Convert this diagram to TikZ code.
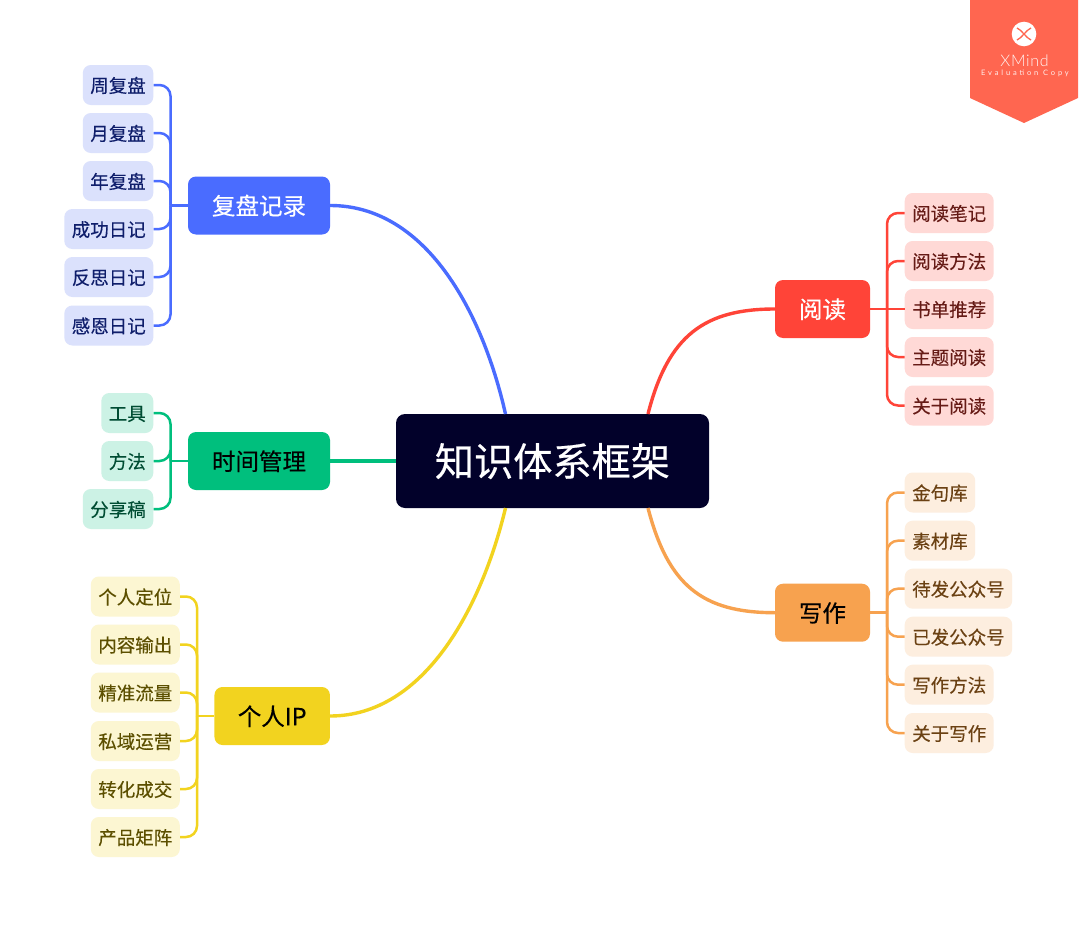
\documentclass[tikz,border=0pt]{standalone}
\usepackage{fontspec}
\setmainfont{Noto Sans CJK SC}[FakeBold=0.2]
\newfontfamily\mainfam{Noto Sans CJK SC}[FakeBold=0.45]
\newfontfamily\badgefont{Lato Light}[LetterSpace=4]
\newfontfamily\badgesmall{Lato}[LetterSpace=38]
\definecolor{cblue}{HTML}{4A6CFF}\definecolor{lblue}{HTML}{DBE1FC}\definecolor{tblue}{HTML}{0F1E6B}
\definecolor{cgreen}{HTML}{00BF7D}\definecolor{lgreen}{HTML}{CCF2E5}\definecolor{tgreen}{HTML}{004D33}
\definecolor{cyellow}{HTML}{F2D31F}\definecolor{lyellow}{HTML}{FCF6D2}\definecolor{tyellow}{HTML}{5C4F00}
\definecolor{cred}{HTML}{FF4438}\definecolor{lred}{HTML}{FFD9D6}\definecolor{tred}{HTML}{661B16}
\definecolor{corange}{HTML}{F7A24F}\definecolor{lorange}{HTML}{FDEEDF}\definecolor{torange}{HTML}{6B4113}
\definecolor{cdark}{HTML}{02012A}\definecolor{cbadge}{HTML}{FF6650}
\tikzset{
  leafbox/.style={rounded corners=8pt,minimum height=40pt,inner ysep=0pt,inner xsep=7.5pt,
    font=\fontsize{18.5}{20}\selectfont,text height=17.3pt,text depth=2.2pt},
  leafb/.style={leafbox,fill=lblue,text=tblue,anchor=east},
  leafg/.style={leafbox,fill=lgreen,text=tgreen,anchor=east},
  leafy/.style={leafbox,fill=lyellow,text=tyellow,anchor=east},
  leafr/.style={leafbox,fill=lred,text=tred,anchor=west},
  leafo/.style={leafbox,fill=lorange,text=torange,anchor=west},
  mainbox/.style={rounded corners=8pt,minimum height=58pt,inner sep=0pt,
    font=\mainfam\fontsize{23.5}{26}\selectfont,text height=21.2pt,text depth=2.8pt},
  root/.style={rounded corners=9pt,fill=cdark,text=white,minimum width=313pt,minimum height=94pt,inner sep=0pt,
    font=\mainfam\fontsize{39.2}{42}\selectfont,text height=34.8pt,text depth=4.7pt},
  bigline/.style={line width=3.4pt},
  subline/.style={line width=2.5pt,rounded corners=11pt}
}
\begin{document}
\begin{tikzpicture}[x=1pt,y=-1pt]
\useasboundingbox (0,0) rectangle (1080,926);
\fill[white] (0,0) rectangle (1080,926);
% badge
\fill[cbadge] (970,0) -- (1078,0) -- (1078,98) -- (1024,123) -- (970,98) -- cycle;
\fill[white] (1024,34) circle (12.3);
\draw[cbadge,line width=1.3pt] (1017,28) .. controls (1022,30) and (1026,38) .. (1031,40);
\draw[cbadge,line width=1.3pt] (1031,28) .. controls (1026,30) and (1022,38) .. (1017,40);
\node[text=white!92!cbadge,inner sep=0pt,font=\badgefont\fontsize{16}{17}\selectfont] (xm) at (1024.5,61) {XMind};
\node[text=white!88!cbadge,inner sep=0pt,font=\badgesmall\fontsize{7.5}{8}\selectfont] (ev) at (1025,73.5) {Evaluation Copy};
% root
\node[root] (c) at (552.5,461) {知识体系框架};
% main topics
\node[mainbox,fill=cblue,text=white,minimum width=142pt] (m1) at (259,205.5) {复盘记录};
\node[mainbox,fill=cgreen,text=black,minimum width=142pt] (m2) at (259,461) {时间管理};
\node[mainbox,fill=cyellow,text=black,minimum width=115.5pt] (m3) at (272.2,716) {个人IP};
\node[mainbox,fill=cred,text=white,minimum width=95pt] (m4) at (822.5,309) {阅读};
\node[mainbox,fill=corange,text=black,minimum width=95pt] (m5) at (822.5,612.7) {写作};
% leaves
\foreach \n/\y/\t in {1/85/周复盘,2/133/月复盘,3/181/年复盘,4/229/成功日记,5/277/反思日记,6/325.5/感恩日记}
  \node[leafb] (b\n) at (153.5,\y) {\t};
\foreach \n/\y/\t in {1/413/工具,2/461/方法,3/509/分享稿}
  \node[leafg] (g\n) at (153.5,\y) {\t};
\foreach \n/\y/\t in {1/596.5/个人定位,2/644.5/内容输出,3/692.5/精准流量,4/741/私域运营,5/789/转化成交,6/837/产品矩阵}
  \node[leafy] (y\n) at (180,\y) {\t};
\foreach \n/\y/\t in {1/213/阅读笔记,2/261/阅读方法,3/309/书单推荐,4/357/主题阅读,5/405.5/关于阅读}
  \node[leafr] (r\n) at (904.5,\y) {\t};
\foreach \n/\y/\t in {1/492.5/金句库,2/540.7/素材库,3/588.7/待发公众号,4/636.7/已发公众号,5/684.7/写作方法,6/733/关于写作}
  \node[leafo] (o\n) at (904.5,\y) {\t};
% junctions and root attachment points
\coordinate (jb) at (170.5,205.5);
\coordinate (jg) at (170.5,461);
\coordinate (jy) at (197,716);
\coordinate (jr) at (887,309);
\coordinate (jo) at (887,612.7);
\coordinate (anw) at (505.5,414);
\coordinate (ane) at (648,414);
\coordinate (asw) at (505.5,508);
\coordinate (ase) at (648,508);
% main curves
\draw[bigline,cblue] (m1.east) .. controls (425,205.5) and (482,310) .. (anw);
\draw[bigline,cgreen] (m2.east) -- (c.west);
\draw[bigline,cyellow] (m3.east) .. controls (425,716) and (482,606) .. (asw);
\draw[bigline,cred] (m4.west) .. controls (705,309) and (668,335) .. (ane);
\draw[bigline,corange] (m5.west) .. controls (702,612.7) and (668,585) .. (ase);
% sub connectors
\foreach \n in {1,...,6} \draw[subline,cblue] (b\n.east) -| (jb);
\draw[subline,cblue] (jb) -- (m1.west);
\foreach \n in {1,2,3} \draw[subline,cgreen] (g\n.east) -| (jg);
\draw[subline,cgreen] (jg) -- (m2.west);
\foreach \n in {1,...,6} \draw[subline,cyellow] (y\n.east) -| (jy);
\draw[subline,cyellow] (jy) -- (m3.west);
\foreach \n in {1,2,4,5} \draw[subline,cred] (r\n.west) -| (jr);
\draw[subline,cred] (m4.east) -- (r3.west);
\foreach \n in {1,...,6} \draw[subline,corange] (o\n.west) -| (jo);
\draw[subline,corange] (jo) -- (m5.east);
\end{tikzpicture}
\end{document}
